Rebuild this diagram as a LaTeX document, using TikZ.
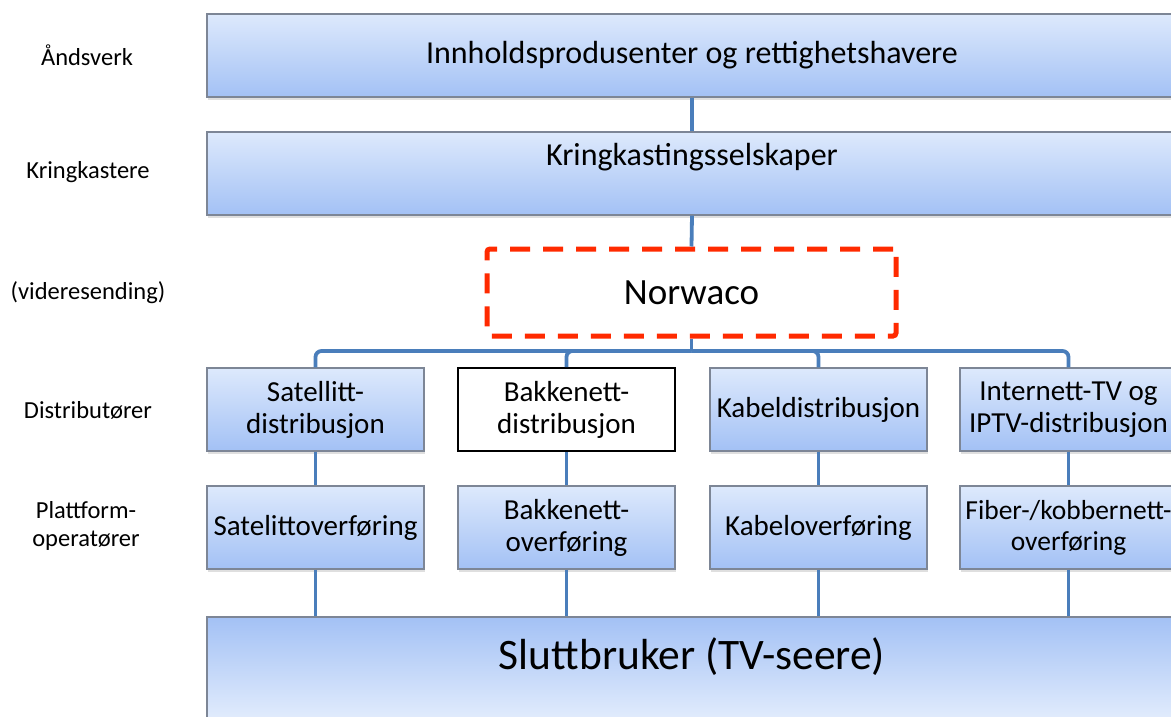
\documentclass[tikz,border=0pt]{standalone}
\usepackage{fontspec}
\setmainfont{Carlito}
\usetikzlibrary{shadows}
\definecolor{conncol}{HTML}{4A7EBB}
\definecolor{boxtop}{HTML}{DDE9FC}
\definecolor{boxbot}{HTML}{A3C1F5}
\definecolor{boxline}{HTML}{7D8696}
\definecolor{nred}{HTML}{FF2A00}
\tikzset{
  bluebox/.style={rectangle, draw=boxline, line width=1.2pt, top color=boxtop, bottom color=boxbot,
    inner sep=0pt, align=center, drop shadow={shadow xshift=1pt, shadow yshift=-3pt, opacity=0.25}},
  colbox/.style={bluebox, minimum width=217pt, minimum height=83pt, font=\fontsize{29}{32}\selectfont},
  whitebox/.style={rectangle, draw=black, line width=2pt, fill=white, inner sep=0pt, align=center,
    minimum width=217pt, minimum height=83pt, font=\fontsize{29}{32}\selectfont},
  sidelabel/.style={align=center, font=\fontsize{24.5}{28}\selectfont},
  conn/.style={draw=conncol, line width=3.8pt},
  redbox/.style={rectangle, draw=nred, line width=5pt, dash pattern=on 20pt off 13pt, rounded corners=3pt,
    minimum width=409pt, minimum height=87pt, font=\fontsize{37}{42}\selectfont}
}
\begin{document}
\begin{tikzpicture}[x=1pt,y=-1pt]
\useasboundingbox (0,0) rectangle (1171,717);
\clip (0,0) rectangle (1171,717);
\node[bluebox, minimum width=970pt, minimum height=83pt, font=\fontsize{32}{36}\selectfont] (top) at (692,55.5) {Innholdsprodusenter og rettighetshavere};
\node[bluebox, minimum width=970pt, minimum height=83pt] (krk) at (692,173.5) {};
\node[font=\fontsize{32}{36}\selectfont] (krktext) at (692,157) {Kringkastingsselskaper};
\node[redbox] (nor) at (691.5,292.5) {Norwaco};
\coordinate (bus) at (691.5,351);
\node[colbox] (d1) at (315.5,409.5) {Satellitt-\\distribusjon};
\node[whitebox] (d2) at (566.5,409.5) {Bakkenett-\\distribusjon};
\node[colbox] (d3) at (818.5,409.5) {Kabeldistribusjon};
\node[colbox] (d4) at (1068.5,409.5) {Internett-TV og\\IPTV-distribusjon};
\node[colbox] (p1) at (315.5,527.5) {Satelittoverføring};
\node[colbox] (p2) at (566.5,527.5) {Bakkenett-\\overføring};
\node[colbox] (p3) at (818.5,527.5) {Kabeloverføring};
\node[colbox, font=\fontsize{27.5}{31}\selectfont] (p4) at (1068.5,527.5) {Fiber-/kobbernett-\\overføring};
\node[bluebox, top color=boxbot, bottom color=boxtop!80!white, minimum width=970pt, minimum height=106pt] (bot) at (692,670) {};
\node[font=\fontsize{43.5}{48}\selectfont] (bottext) at (692,657) {Sluttbruker (TV-seere)};
% connectors
\draw[conn] (top.south) -- (krk.north);
\draw[conn] (krk.south) -- (nor.north);
\draw[conn] (nor.south) -- (bus);
\foreach \i in {1,2,3,4}{
  \draw[conn, rounded corners=6pt] (bus) -| (d\i.north);
  \draw[conn] (d\i.south) -- (p\i.north);
  \draw[conn] (p\i.south) -- (p\i.south |- bot.north);
}
% side labels
\node[sidelabel] (l1) at (87,55) {Åndsverk};
\node[sidelabel] (l2) at (88,172) {Kringkastere};
\node[sidelabel] (l3) at (88,293) {(videresending)};
\node[sidelabel] (l4) at (88,410) {Distributører};
\node[sidelabel] (l5) at (86,526) {Plattform-\\operatører};
\end{tikzpicture}
\end{document}
